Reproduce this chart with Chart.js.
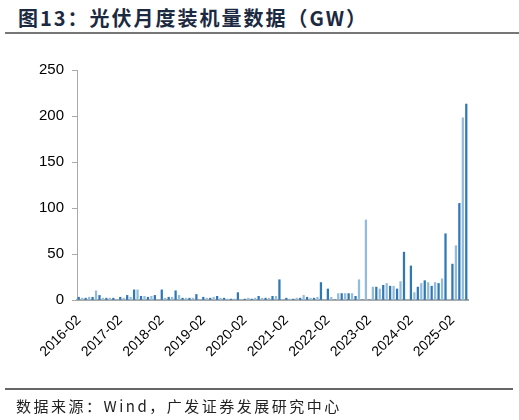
<!DOCTYPE html>
<html><head><meta charset="utf-8">
<script src="https://cdn.jsdelivr.net/npm/chart.js@4/dist/chart.umd.min.js"></script>
<style>
body{margin:0;width:519px;height:420px;background:#fff;position:relative;overflow:hidden;font-family:"Liberation Sans",Arial,sans-serif}
#t{position:absolute;left:18px;top:3px;font-size:20px;font-weight:bold;color:#1b2a41;font-family:"Noto Sans CJK SC","Liberation Sans";letter-spacing:2px}
#l1{position:absolute;left:5px;right:0;top:32px;border-top:2px solid #777}
#l2{position:absolute;left:5px;right:6px;top:388px;border-top:2px solid #666}
#s{position:absolute;left:16px;top:395px;font-size:15px;color:#222;font-family:"Noto Sans CJK SC","Liberation Sans";letter-spacing:2.5px}
canvas{position:absolute;left:0;top:0}
</style></head><body>
<div id="t">图13：光伏月度装机量数据（GW）</div>
<div id="l1"></div>
<canvas id="c" width="519" height="420"></canvas>
<div id="l2"></div>
<div id="s">数据来源：Wind，广发证券发展研究中心</div>
<script>
const startYear = 2016, startMonth = 2;
const values = [
3,2,2,3,3,10,5,2,2,2,2,0,
3,2,5,3,11,11,4,4,3,4,5,0,
11,2,3,3,10,5,2,2,2,2,6,0,
3,2,2,3,4,2,2,1,1,1,8,0,
1,2,1,2,4,2,2,2,4,4,22,0,
2,1,1,2,2,5,3,2,2,3,19,0,
12,3,0,7,7,7,7,7,4,22,0,87,
0,14,14,12,16,18,15,15,12,20,52,0,
37,8,14,18,21,19,15,19,18,23,72,0,
39,59,105,198,213
];
const categories = values.map((v,i)=>{const m=startMonth-1+i;const y=startYear+Math.floor(m/12);const mm=(m%12)+1;return y+'-'+String(mm).padStart(2,'0');});
const yTicks = [0,50,100,150,200,250];
const colors = values.map((v,i)=> i%2===0 ? '#2f78b4' : '#93bbdc');
new Chart(document.getElementById('c'),{
 type:'bar',
 data:{labels:categories,datasets:[{data:values,backgroundColor:colors,barThickness:1.6}]},
 options:{responsive:false,animation:false,
  layout:{padding:{top:70,right:51,left:0,bottom:0}},
  plugins:{legend:{display:false},tooltip:{enabled:false}},
  scales:{
   x:{grid:{display:false},border:{color:'#aaa',width:2},
      ticks:{autoSkip:false,maxRotation:45,minRotation:45,color:'#000',font:{size:14,family:'Liberation Sans'},padding:4,
        callback:(v,i)=> i%12===0 ? categories[i] : ''},
      afterFit:s=>{s.height=120;}},
   y:{min:0,max:250,grid:{drawOnChartArea:false,tickLength:5,color:'#aaa'},border:{color:'#aaa',width:1},
      afterBuildTicks:s=>{s.ticks=yTicks.map(v=>({value:v}));},
      ticks:{color:'#000',font:{size:15,family:'Liberation Sans'},padding:8},
      afterFit:s=>{s.width=77;}}
  }}
});
</script></body></html>
